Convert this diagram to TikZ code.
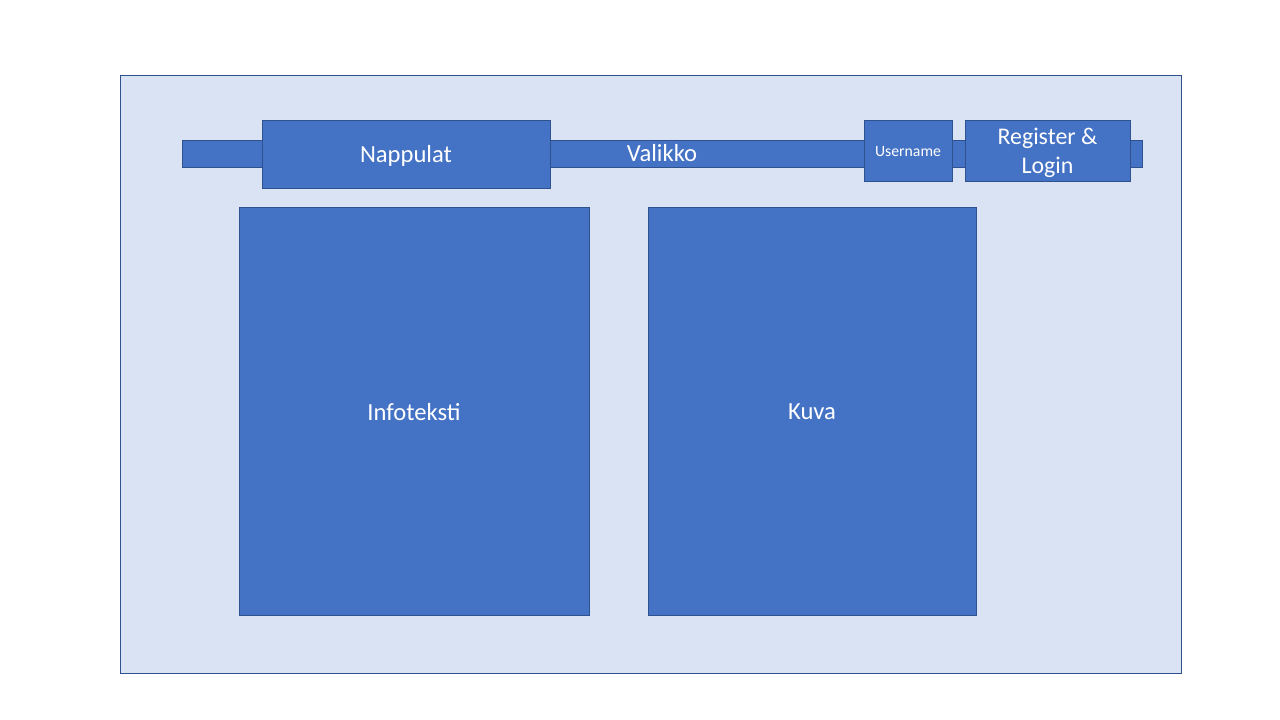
\documentclass[tikz,border=0pt]{standalone}
\usepackage{fontspec}
\setmainfont{Carlito}
\definecolor{boxblue}{HTML}{4472C4}
\definecolor{boxline}{HTML}{2F528F}
\definecolor{pageblue}{HTML}{DAE3F3}
\tikzset{
  block/.style={fill=boxblue, draw=boxline, line width=0.6pt, inner sep=0pt},
  blocktext/.style={text=white, align=center, inner sep=0pt},
  bigtext/.style={font=\fontsize{17.5}{21}\selectfont},
}
\begin{document}
\begin{tikzpicture}[x=0.025cm, y=-0.025cm]
        % Canvas
        \useasboundingbox (0,0) rectangle (1280,720);
        \fill[white] (0,0) rectangle (1280,720);

        % Page background
        \draw[fill=pageblue, draw=boxline, line width=0.6pt] (120,75) rectangle (1181,673);

        % Menu bar
        \node[block, blocktext, bigtext, minimum width=960*0.025cm, minimum height=27*0.025cm] (valikko) at (662,153.5) {Valikko};

        % Buttons on the bar
        \node[block, minimum width=288*0.025cm, minimum height=68*0.025cm,
              label={[blocktext, bigtext, yshift=-1.1pt]center:Nappulat}] (nappulat) at (406,154) {};
        \node[block, minimum width=88*0.025cm, minimum height=61*0.025cm,
              label={[blocktext, font=\fontsize{11.2}{13}\selectfont, yshift=-0.7pt]center:Username}] (username) at (908,150.5) {};
        \node[block, minimum width=165*0.025cm, minimum height=61*0.025cm,
              label={[blocktext, font=\fontsize{17}{20.6}\selectfont, yshift=-1.8pt]center:Register \&\\Login}] (login) at (1047.5,150.5) {};

        % Content areas
        \node[block, minimum width=350*0.025cm, minimum height=408*0.025cm,
              label={[blocktext, bigtext, yshift=-0.7pt]center:Infoteksti}] (info) at (414,411) {};
        \node[block, minimum width=328*0.025cm, minimum height=408*0.025cm,
              label={[blocktext, bigtext, yshift=-0.7pt]center:Kuva}] (kuva) at (812,411) {};
\end{tikzpicture}
\end{document}
